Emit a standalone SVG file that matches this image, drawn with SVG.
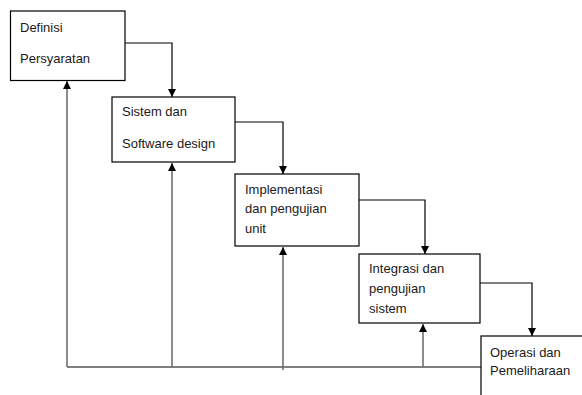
<svg xmlns="http://www.w3.org/2000/svg" width="582" height="395" viewBox="0 0 582 395">
<style>
.box{fill:#fff;stroke:#000;stroke-width:1.2}
.t{font-family:"Liberation Sans",Arial,sans-serif;font-size:13px;fill:#1a1a1a}
.c{fill:none;stroke:#000;stroke-width:1.2}
.u{fill:none;stroke:#707070;stroke-width:1.6}
</style>
<defs>
<marker id="ah" viewBox="0 0 10 10" refX="10" refY="5" markerWidth="8" markerHeight="8" markerUnits="userSpaceOnUse" orient="auto">
<path d="M0,0 L10,5 L0,10 z" fill="#000"/>
</marker>
</defs>
<rect width="582" height="395" fill="#fff"/>
<g id="connectors">
<path class="c" d="M125,43 H172 V97" marker-end="url(#ah)"/>
<path class="c" d="M235,122 H283 V174" marker-end="url(#ah)"/>
<path class="c" d="M359,200 H425 V254" marker-end="url(#ah)"/>
<path class="c" d="M480,283 H532 V336" marker-end="url(#ah)"/>
<path class="c" d="M67,367 H481"/>
<path class="u" d="M67,367 V81" marker-end="url(#ah)"/>
<path class="u" d="M172,367 V163" marker-end="url(#ah)"/>
<path class="u" d="M283,370 V247" marker-end="url(#ah)"/>
<path class="u" d="M423,367 V324" marker-end="url(#ah)"/>
</g>
<g id="n1">
<rect class="box" x="10.5" y="11" width="114.5" height="69.5"/>
<text class="t" x="20" y="32">Definisi</text>
<text class="t" x="20" y="63">Persyaratan</text>
</g>
<g id="n2">
<rect class="box" x="112" y="97" width="123" height="65"/>
<text class="t" x="122" y="116">Sistem dan</text>
<text class="t" x="122" y="148">Software design</text>
</g>
<g id="n3">
<rect class="box" x="235" y="174" width="124" height="72"/>
<text class="t" x="245" y="194">Implementasi</text>
<text class="t" x="245" y="213">dan pengujian</text>
<text class="t" x="245" y="233">unit</text>
</g>
<g id="n4">
<rect class="box" x="359" y="254" width="121" height="69"/>
<text class="t" x="369" y="273">Integrasi dan</text>
<text class="t" x="369" y="293">pengujian</text>
<text class="t" x="369" y="313">sistem</text>
</g>
<g id="n5">
<rect class="box" x="481" y="336" width="200" height="100"/>
<text class="t" x="490" y="357">Operasi dan</text>
<text class="t" x="490" y="375">Pemeliharaan</text>
</g>
</svg>
